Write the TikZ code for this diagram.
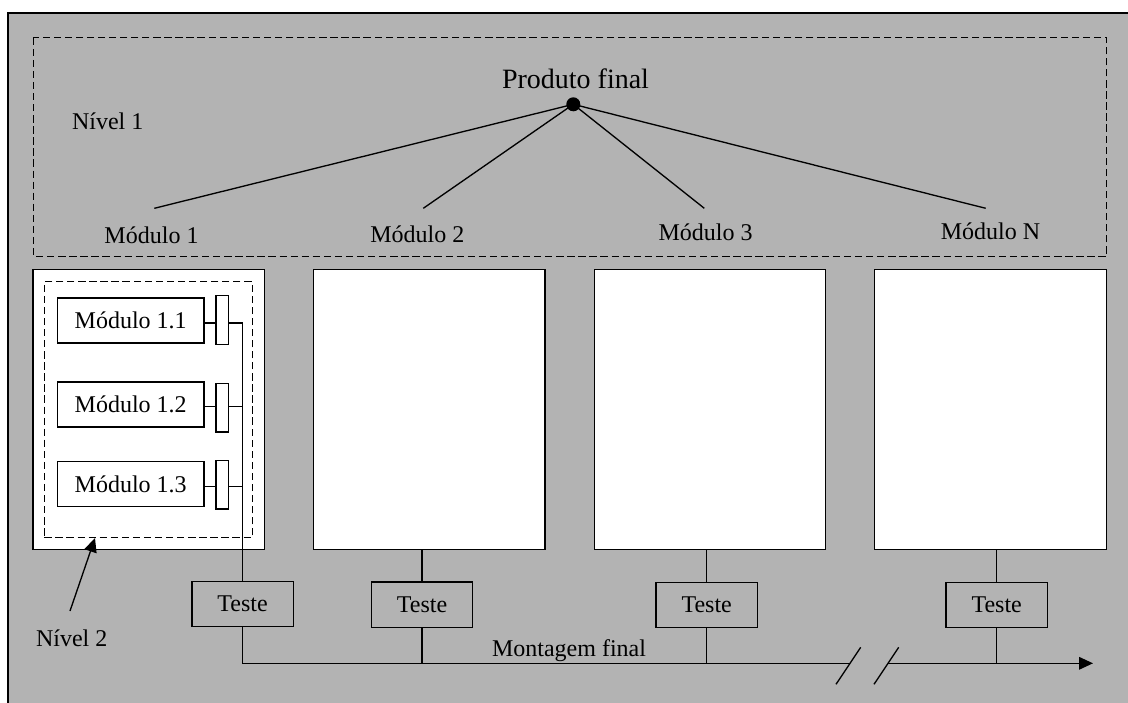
\documentclass[tikz,border=0pt]{standalone}
\usepackage{fontspec}
\setmainfont{Liberation Serif}
\usetikzlibrary{arrows.meta}
\definecolor{bggray}{RGB}{179,179,179}
\begin{document}
\begin{tikzpicture}[x=0.75pt,y=-0.75pt,line width=1pt,
  txt/.style={font=\fontsize{18}{20}\selectfont,inner sep=0pt,anchor=base},
  dashbox/.style={line width=1.1pt,dash pattern=on 5.5pt off 2.8pt},
  bigbox/.style={draw,fill=white,minimum width=173.6pt,minimum height=210pt,inner sep=0pt},
  subbox/.style={draw,fill=white,minimum width=110pt,minimum height=33.75pt,inner sep=0pt,font=\fontsize{18}{20}\selectfont},
  plug/.style={draw,fill=white,minimum width=9.5pt,minimum height=36.5pt,inner sep=0pt},
  testbox/.style={draw,minimum width=76pt,minimum height=34pt,inner sep=0pt,font=\fontsize{18}{20}\selectfont},
  headarrow/.style={-{Triangle[length=10.5pt,width=9.5pt]}}
]
\useasboundingbox (0,0) rectangle (1128,703);
\fill[bggray] (8,13) rectangle (1128,703);
\draw (1128,13) -- (8,13) -- (8,703);

% Level 1
\draw[dashbox] (33.3,37.7) rectangle (1106.7,256.3);
\node[txt] (lvl1) at (107.7,129) {Nível 1};
\node[txt,font=\fontsize{21}{24}\selectfont] (prod) at (575.5,88.5) {Produto final};
\node[circle,fill,inner sep=0pt,minimum size=10.5pt] (hub) at (573.3,104.3) {};
\coordinate (e1) at (154.3,208.3);
\coordinate (e2) at (423.3,208.3);
\coordinate (e3) at (704.3,208.3);
\coordinate (e4) at (985.7,208.3);
\draw (hub.center) -- (e1);
\draw (hub.center) -- (e2);
\draw (hub.center) -- (e3);
\draw (hub.center) -- (e4);
\node[txt] (l1) at (151.5,243) {Módulo 1};
\node[txt] (l2) at (417.3,242.7) {Módulo 2};
\node[txt] (l3) at (705.5,240) {Módulo 3};
\node[txt] (l4) at (990.5,239) {Módulo N};

% Module boxes
\node[bigbox] (b1) at (148.7,409.3) {};
\node[bigbox] (b2) at (429.2,409.3) {};
\node[bigbox] (b3) at (709.9,409.3) {};
\node[bigbox] (b4) at (990.5,409.3) {};

% Level 2 inside module 1
\node[draw,dashbox,minimum width=156pt,minimum height=192pt,inner sep=0pt] (lvl2box) at (148.3,409.7) {};
\node[subbox] (m11) at (130.7,320.5) {Módulo 1.1};
\node[subbox] (m12) at (130.7,404.5) {Módulo 1.2};
\node[subbox] (m13) at (130.7,484) {Módulo 1.3};
\node[plug] (p1) at (222.3,320) {};
\node[plug] (p2) at (222.3,407.8) {};
\node[plug] (p3) at (222.3,484.8) {};

% Test boxes
\node[testbox] (t1) at (242.5,604) {Teste};
\node[testbox] (t2) at (422,604.5) {Teste};
\node[testbox] (t3) at (706.7,605) {Teste};
\node[testbox] (t4) at (996.7,605) {Teste};

% Connectors inside module 1
\draw (m11.east |- 0,323) -- (p1.west |- 0,323);
\draw (m12.east |- 0,406.7) -- (p2.west |- 0,406.7);
\draw (m13.east |- 0,486.7) -- (p3.west |- 0,486.7);
\coordinate (c1) at (242.5,323);
\coordinate (c2) at (242.5,406.7);
\coordinate (c3) at (242.5,486.7);
\draw (p1.east |- c1) -- (c1) -- (t1.north);
\draw (p2.east |- c2) -- (c2);
\draw (p3.east |- c3) -- (c3);

% Connectors from modules to tests
\draw (b2.south -| t2.north) -- (t2.north);
\draw (b3.south -| t3.north) -- (t3.north);
\draw (b4.south -| t4.north) -- (t4.north);

% Final assembly bus
\coordinate (brkA) at (850,663.3);
\coordinate (brkB) at (888,663.3);
\coordinate (busend) at (1093,663.3);
\draw (t1.south) |- (brkA);
\draw[headarrow] (brkB) -- (busend);
\draw (t2.south) -- (t2.south |- brkA);
\draw (t3.south) -- (t3.south |- brkA);
\draw (t4.south) -- (t4.south |- brkA);
\coordinate (s1a) at (836,684.3);
\coordinate (s1b) at (860.7,647.3);
\coordinate (s2a) at (874,684.3);
\coordinate (s2b) at (898.7,647.3);
\draw (s1a) -- (s1b);
\draw (s2a) -- (s2b);
\node[txt] (mont) at (569,656.5) {Montagem final};

% Level 2 label and arrow
\node[txt] (lvl2) at (71.7,646.7) {Nível 2};
\coordinate (n2start) at (70,611);
\coordinate (n2tip) at (95,538);
\draw[headarrow] (n2start) -- (n2tip);
\end{tikzpicture}
\end{document}
